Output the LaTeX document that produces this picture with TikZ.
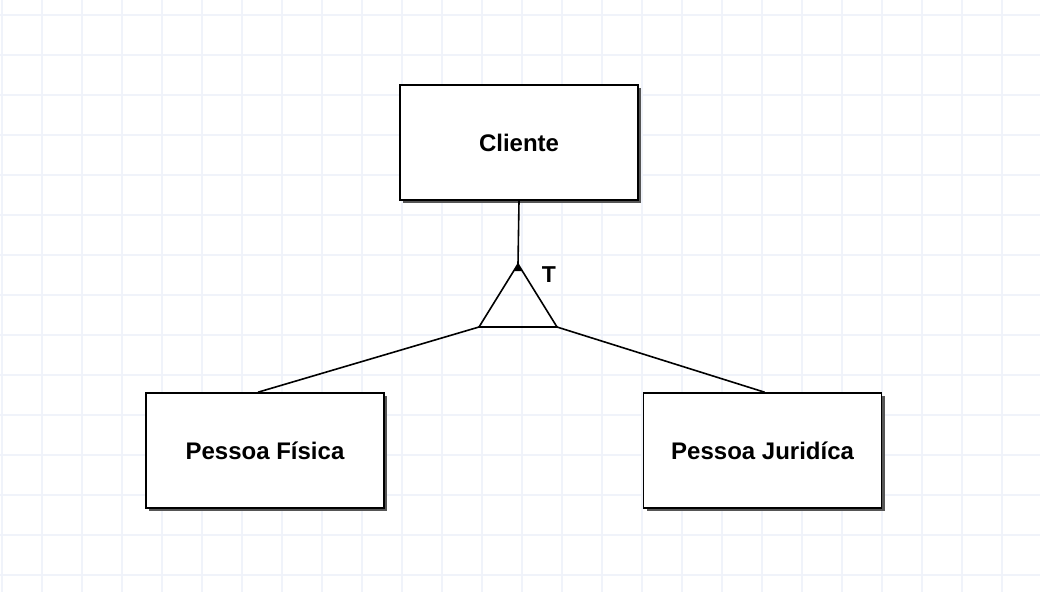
\documentclass[tikz,border=0pt]{standalone}
\usepackage{fontspec}
\setmainfont{Liberation Sans}
\usetikzlibrary{positioning, shadows}
\definecolor{grade}{RGB}{240, 243, 250}
\definecolor{sombra}{RGB}{85, 85, 85}

\begin{document}
\begin{tikzpicture}[x=1pt, y=-1pt,
    entidade/.style={draw=black, fill=white, line width=1.6pt,
          minimum width=238pt, minimum height=115pt, inner sep=0pt,
          font=\fontsize{24}{28}\selectfont\bfseries,
          drop shadow={shadow xshift=3pt, shadow yshift=-3pt, fill=sombra, opacity=1}},
    ligacao/.style={line width=1.6pt}]
    % fundo e grade
    \fill[white] (0,0) rectangle (1040,592);
    \useasboundingbox (0,0) rectangle (1040,592);
    \foreach \x in {2,42,...,1042}
      \draw[grade, line width=1.5pt] (\x,0) -- (\x,592);
    \foreach \y in {15,55,...,575}
      \draw[grade, line width=1.5pt] (0,\y) -- (1040,\y);

    % entidades
    \node[entidade] (cliente) at (519,142.5) {Cliente};
    \node[entidade] (fisica) at (265,450.5) {Pessoa Física};
    \node[entidade, right=258pt of fisica] (juridica) {Pessoa Juridíca};

    % especializacao
    \coordinate (topo) at (518,264);
    \coordinate (baseE) at (479,327);
    \coordinate (baseD) at (557,327);
    \draw[ligacao, line join=miter] (topo) -- (baseE) -- (baseD) -- cycle;
    \fill (topo) -- ++(-4.5,7) -- ++(9,0) -- cycle;
    \node[font=\fontsize{23}{27}\selectfont\bfseries] (tipo) at (549,275) {T};

    \draw[ligacao] (cliente.south) -- (topo);
    \draw[ligacao] (baseE) -- ([xshift=-7pt]fisica.north);
    \draw[ligacao] (baseD) -- ([xshift=2pt]juridica.north);
  \end{tikzpicture}
\end{document}
